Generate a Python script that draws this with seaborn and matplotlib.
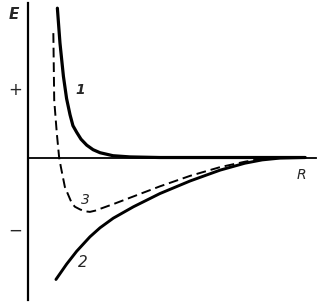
import matplotlib
matplotlib.use("Agg")
import matplotlib.pyplot as plt
import seaborn as sns
import pandas as pd

sns.set_style("white")
plt.rcParams['font.family'] = ['DejaVu Sans']

# Curve 1: repulsion (solid)
r1 = [1.02, 1.11, 1.23, 1.34, 1.46, 1.56, 1.69, 1.84, 2.04, 2.26, 2.50, 2.95, 3.54, 4.58, 9.62]
e1 = [4.97, 3.81, 2.70, 1.96, 1.42, 1.06, 0.84, 0.61, 0.41, 0.26, 0.16, 0.06, 0.02, 0.0, 0.0]
# Curve 2: attraction (solid)
r2 = [0.97, 1.34, 1.69, 2.15, 2.50, 2.96, 3.66, 4.58, 5.63, 6.67, 7.53, 8.13, 8.75, 9.62]
e2 = [-4.06, -3.55, -3.12, -2.64, -2.34, -2.02, -1.64, -1.20, -0.78, -0.42, -0.19, -0.08, -0.02, 0.0]
# Curve 3: resulting energy (dashed)
r3 = [0.88, 0.91, 1.00, 1.08, 1.14, 1.28, 1.52, 1.63, 1.81, 1.98, 2.15, 2.33, 2.50, 3.02, 3.54,
      4.58, 5.63, 6.67, 7.53, 8.06]
e3 = [4.14, 1.91, 0.81, 0.01, -0.31, -0.98, -1.52, -1.64, -1.73, -1.79, -1.81, -1.77, -1.71, -1.53, -1.34,
      -0.96, -0.61, -0.32, -0.14, -0.05]

curve_labels = ["1", "2", "3"]
axis_labels = ["E", "R"]
sign_labels = ["+", "\u2212"]

fig = plt.figure(figsize=(3.29, 3.03), dpi=100)
ax = fig.add_axes([0, 0, 1, 1])

df1 = pd.DataFrame({"R": r1, "E": e1})
df2 = pd.DataFrame({"R": r2, "E": e2})
df3 = pd.DataFrame({"R": r3, "E": e3})

sns.lineplot(data=df1, x="R", y="E", ax=ax, color="black", lw=2.3, sort=False, estimator=None)
sns.lineplot(data=df2, x="R", y="E", ax=ax, color="black", lw=2.1, sort=False, estimator=None)
sns.lineplot(data=df3, x="R", y="E", ax=ax, color="black", lw=1.4, sort=False, estimator=None,
             dashes=False, linestyle=(0, (5, 2.5)))

ax.set_xlim(-0.972, 10.45)
ax.set_ylim(-4.843, 5.243)
ax.set_xlabel("")
ax.set_ylabel("")
ax.set_xticks([])
ax.set_yticks([])
for s in ["top", "right"]:
    ax.spines[s].set_visible(False)
ax.spines["left"].set_position(("data", 0))
ax.spines["bottom"].set_position(("data", 0))
ax.spines["left"].set_bounds(-4.73, 5.15)
ax.spines["bottom"].set_bounds(0, 10.0)
ax.spines["left"].set_linewidth(1.6)
ax.spines["bottom"].set_linewidth(1.3)
ax.spines["left"].set_color("black")
ax.spines["bottom"].set_color("black")

ax.text(-0.5, 4.75, axis_labels[0], fontsize=11, fontstyle="italic", fontweight="bold", ha="center", va="center")
ax.text(9.48, -0.59, axis_labels[1], fontsize=10, fontstyle="italic", ha="center", va="center")
ax.text(-0.45, 2.25, sign_labels[0], fontsize=12, ha="center", va="center")
ax.text(-0.45, -2.42, sign_labels[1], fontsize=12, ha="center", va="center")
ax.text(1.82, 2.25, curve_labels[0], fontsize=10, fontstyle="italic", fontweight="bold", ha="center", va="center")
ax.text(1.92, -3.49, curve_labels[1], fontsize=11, fontstyle="italic", ha="center", va="center")
ax.text(1.98, -1.42, curve_labels[2], fontsize=10, fontstyle="italic", ha="center", va="center")

fig.savefig("out.png", dpi=100)
